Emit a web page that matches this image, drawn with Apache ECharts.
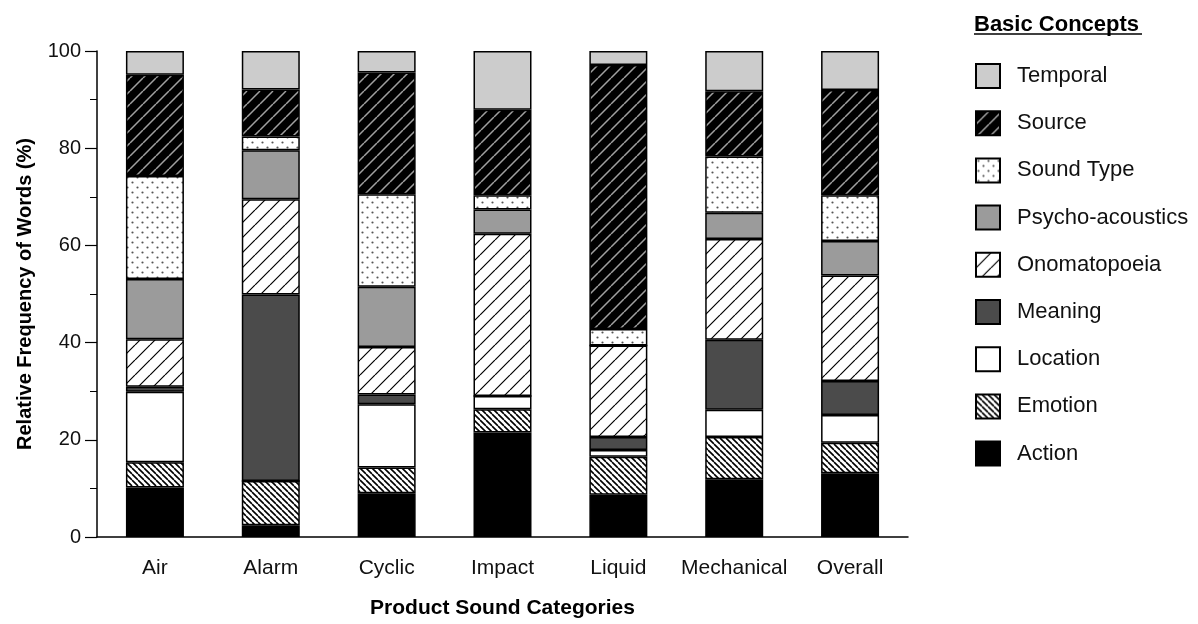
<!DOCTYPE html>
<html>
<head>
<meta charset="utf-8">
<script src="https://cdn.jsdelivr.net/npm/echarts@6/dist/echarts.min.js"></script>
<style>
  html, body { margin: 0; padding: 0; background: #fff; }
  #main { width: 1198px; height: 624px; }
</style>
</head>
<body>
<div id="main"></div>
<script>
// product sound categories and the share (%) of each basic concept
var categories = ['Air', 'Alarm', 'Cyclic', 'Impact', 'Liquid', 'Mechanical', 'Overall'];
var action       = [10.2,  2.4,  9.0, 21.5,  8.7, 11.9, 13.1];
var emotion      = [ 5.2,  9.1,  5.3,  4.8,  7.8,  8.7,  6.3];
var location_    = [14.5,  0.0, 13.0,  2.7,  1.4,  5.6,  5.7];
var meaning      = [ 1.0, 38.4,  2.0,  0.0,  2.7, 14.4,  7.0];
var onomatopoeia = [ 9.8, 19.6,  9.8, 33.4, 18.8, 20.7, 21.7];
var psycho       = [12.4, 10.1, 12.4,  5.0,  0.0,  5.4,  7.1];
var soundType    = [21.2,  2.8, 19.0,  2.9,  3.4, 11.6,  9.4];
var source       = [20.8,  9.7, 25.1, 17.6, 54.3, 13.4, 21.7];
var temporal     = [ 4.9,  7.9,  4.4, 12.1,  2.9,  8.3,  8.0];
var yTicks = [0, 20, 40, 60, 80, 100];

var FONT = '"Liberation Sans", Arial, Helvetica, sans-serif';

// small canvas tiles used as fill patterns
function hatch(bg, fg, size, lw, back) {
    var c = document.createElement('canvas');
    c.width = size; c.height = size;
    var g = c.getContext('2d');
    g.fillStyle = bg;
    g.fillRect(0, 0, size, size);
    g.strokeStyle = fg;
    g.lineWidth = lw;
    g.beginPath();
    for (var k = -1; k <= 1; k++) {
        if (back) {      // "\"
            g.moveTo(k * size, 0);
            g.lineTo(k * size + size, size);
        } else {         // "/"
            g.moveTo(k * size, size);
            g.lineTo(k * size + size, 0);
        }
    }
    g.stroke();
    return { image: c, repeat: 'repeat' };
}
function dots(bg, fg, size, r) {
    var c = document.createElement('canvas');
    c.width = size; c.height = size;
    var g = c.getContext('2d');
    g.fillStyle = bg;
    g.fillRect(0, 0, size, size);
    g.fillStyle = fg;
    g.beginPath();
    g.arc(size / 4, size / 4, r, 0, Math.PI * 2);
    g.arc(size * 3 / 4, size * 3 / 4, r, 0, Math.PI * 2);
    g.fill();
    return { image: c, repeat: 'repeat' };
}

var styles = {
    'Action':           '#000000',
    'Emotion':          hatch('#ffffff', '#000000', 6, 1.6, true),
    'Location':         '#ffffff',
    'Meaning':          '#4b4b4b',
    'Onomatopoeia':     hatch('#ffffff', '#000000', 15, 1.2, false),
    'Psycho-acoustics': '#9b9b9b',
    'Sound Type':       dots('#ffffff', '#555555', 10, 1.1),
    'Source':           hatch('#000000', '#a0a0a0', 13, 1.5, false),
    'Temporal':         '#cccccc'
};

var seriesData = [
    ['Action', action],
    ['Emotion', emotion],
    ['Location', location_],
    ['Meaning', meaning],
    ['Onomatopoeia', onomatopoeia],
    ['Psycho-acoustics', psycho],
    ['Sound Type', soundType],
    ['Source', source],
    ['Temporal', temporal]
];

var series = seriesData.map(function (d) {
    return {
        name: d[0],
        type: 'bar',
        stack: 'all',
        barWidth: 58,
        data: d[1],
        itemStyle: {
            color: styles[d[0]],
            borderColor: '#000',
            borderWidth: 1.5
        },
        emphasis: { disabled: true }
    };
});

var myChart = echarts.init(document.getElementById('main'));
var option = {
    animation: false,
    backgroundColor: '#fff',
    grid: { left: 97, right: 290, top: 51, bottom: 85 },
    legend: {
        orient: 'vertical',
        left: 970,
        top: 58,
        itemWidth: 24,
        itemHeight: 24,
        itemGap: 21.2,
        icon: 'rect',
        data: seriesData.map(function (d) { return d[0]; }).reverse(),
        textStyle: { fontFamily: FONT, fontSize: 22, color: '#111', padding: [0, 0, 0, 12] }
    },
    graphic: [
        {
            type: 'text', left: 974, top: 14,
            style: { text: 'Basic Concepts', font: 'bold 22px ' + FONT, fill: '#000' }
        },
        {
            type: 'line',
            shape: { x1: 974, y1: 34, x2: 1142, y2: 34 },
            style: { stroke: '#000', lineWidth: 1.5 }
        }
    ],
    xAxis: {
        type: 'category',
        data: categories,
        name: 'Product Sound Categories',
        nameLocation: 'middle',
        nameGap: 61,
        nameTextStyle: { fontFamily: FONT, fontSize: 21, fontWeight: 'bold', color: '#000' },
        axisLine: { lineStyle: { color: '#000', width: 1.5 } },
        axisTick: { length: 12, lineStyle: { color: '#000', width: 1.2 } },
        axisLabel: { interval: 0, fontFamily: FONT, fontSize: 21, color: '#111', margin: 21 }
    },
    yAxis: {
        type: 'value',
        min: yTicks[0],
        max: yTicks[yTicks.length - 1],
        interval: 20,
        name: 'Relative Frequency of Words (%)',
        nameLocation: 'middle',
        nameGap: 62,
        nameTextStyle: { fontFamily: FONT, fontSize: 20, fontWeight: 'bold', color: '#000' },
        axisLine: { show: true, lineStyle: { color: '#000', width: 1.5 } },
        axisTick: { show: true, length: 12, lineStyle: { color: '#000', width: 1.2 } },
        minorTick: { show: true, splitNumber: 2, length: 7, lineStyle: { color: '#000', width: 1 } },
        splitLine: { show: false },
        axisLabel: { fontFamily: FONT, fontSize: 20, color: '#111', margin: 16 }
    },
    series: series
};
myChart.setOption(option);
</script>
</body>
</html>
